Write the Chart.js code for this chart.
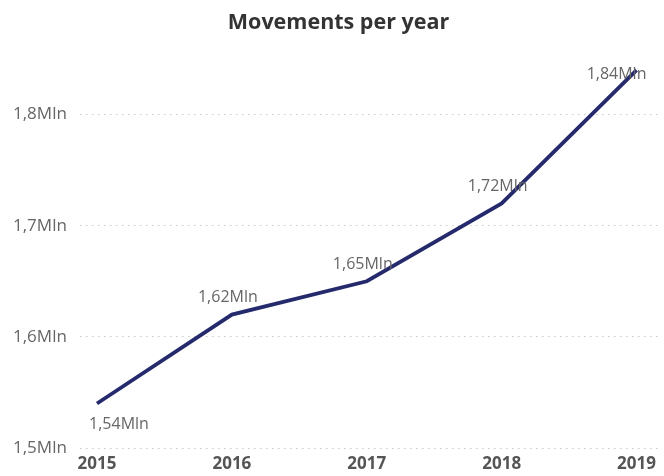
<!DOCTYPE html>
<html>
<head>
<meta charset="utf-8">
<script src="https://cdn.jsdelivr.net/npm/chart.js@4"></script>
<style>
  html, body { margin: 0; padding: 0; background: #ffffff; }
  #wrap { width: 664px; height: 476px; }
</style>
</head>
<body>
<div id="wrap"><canvas id="chart" width="664" height="476"></canvas></div>
<script>
// Yearly movements, in millions
const years = [2015, 2016, 2017, 2018, 2019];
const movements = [1.54, 1.62, 1.65, 1.72, 1.84];
const yTicks = [1.5, 1.6, 1.7, 1.8];

const fmt = v => v.toLocaleString('it-IT', { maximumFractionDigits: 2 }) + 'Mln';

// Value labels: above each point, first one below, last one nudged inward
const valueLabels = {
  id: 'valueLabels',
  afterDatasetsDraw(chart) {
    const ctx = chart.ctx;
    const meta = chart.getDatasetMeta(0);
    ctx.save();
    ctx.font = '16px "Open Sans"';
    ctx.fillStyle = '#666666';
    ctx.textAlign = 'center';
    ctx.textBaseline = 'middle';
    meta.data.forEach((pt, i) => {
      let dx = -4, dy = -17;
      if (i === 0) { dx = 22; dy = 21; }
      if (i === meta.data.length - 1) { dx = -20; dy = 4; }
      ctx.fillText(fmt(movements[i]), pt.x + dx, pt.y + dy);
    });
    ctx.restore();
  }
};

new Chart(document.getElementById('chart'), {
  type: 'line',
  data: {
    datasets: [{
      data: years.map((y, i) => ({ x: y, y: movements[i] })),
      borderColor: '#252a6c',
      borderWidth: 3.8,
      pointRadius: 0,
      tension: 0,
      clip: false
    }]
  },
  plugins: [valueLabels],
  options: {
    responsive: false,
    animation: false,
    layout: { padding: { left: 13, right: 0, top: 0, bottom: 5 } },
    plugins: {
      legend: { display: false },
      tooltip: { enabled: false },
      title: {
        display: true,
        text: 'Movements per year',
        color: '#333333',
        font: { family: '"Open Sans"', size: 21.5, weight: 'bold' },
        padding: { top: 10, bottom: 12 }
      }
    },
    scales: {
      x: {
        type: 'linear',
        min: 2014.874,
        max: 2019.19,
        afterBuildTicks: s => { s.ticks = years.map(v => ({ value: v })); },
        afterFit: s => { s.height = 23; },
        ticks: {
          color: '#555555',
          font: { family: '"Open Sans"', size: 17, weight: 'bold', lineHeight: 1 },
          padding: 8,
          maxRotation: 0,
          callback: v => String(v)
        },
        grid: { display: false, drawTicks: false },
        border: { display: false }
      },
      y: {
        min: 1.5,
        max: 1.86,
        afterBuildTicks: s => { s.ticks = yTicks.map(v => ({ value: v })); },
        afterFit: s => { s.width = 67; },
        ticks: {
          color: '#666666',
          font: { family: '"Open Sans"', size: 17 },
          crossAlign: 'far',
          padding: 10,
          callback: v => fmt(v)
        },
        grid: {
          color: '#c8c8c8',
          lineWidth: 1,
          drawTicks: false
        },
        border: { display: false, dash: [1.5, 4.5] }
      }
    }
  }
});
</script>
</body>
</html>
